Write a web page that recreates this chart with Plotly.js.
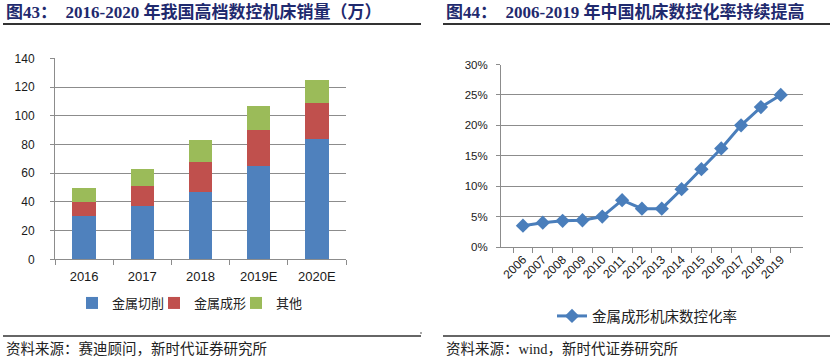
<!DOCTYPE html>
<html>
<head>
<meta charset="utf-8">
<script src="https://cdn.plot.ly/plotly-3.0.1.min.js"></script>
<style>
  html, body { margin: 0; padding: 0; background: #fff; }
  #chart { width: 832px; height: 362px; }
</style>
</head>
<body>
<div id="chart"></div>
<script>
// ---- Data (figure 43) ----
const years43 = ['2016', '2017', '2018', '2019E', '2020E'];
const metalCutting = [30, 37, 47, 65, 84];
const metalForming = [10, 14, 21, 25, 25];
const others = [10, 12, 15, 17, 16];
const names43 = ['金属切削', '金属成形', '其他'];

// ---- Data (figure 44) ----
const years44 = ['2006', '2007', '2008', '2009', '2010', '2011', '2012', '2013', '2014', '2015', '2016', '2017', '2018', '2019'];
const ncRate = [0.035, 0.040, 0.043, 0.044, 0.050, 0.077, 0.063, 0.063, 0.095, 0.128, 0.162, 0.200, 0.230, 0.250];
const name44 = '金属成形机床数控化率';

const title43 = '图43：\u00a0 2016-2020 年我国高档数控机床销量（万）';
const title44 = '图44：\u00a0 2006-2019 年中国机床数控化率持续提高';
const source43 = '资料来源：赛迪顾问，新时代证券研究所';
const source44 = '资料来源：wind，新时代证券研究所';

const W = 832, H = 362;
const px = v => v / W;
const py = v => 1 - v / H;

const tickFont = { family: 'Liberation Sans, Arial, sans-serif', color: '#1a1a1a' };
const cjk = 'Liberation Serif, Noto Sans CJK SC, serif';
const gridC = '#8c8c8c';

const traces = [
  { type: 'bar', x: years43, y: metalCutting, name: names43[0], marker: { color: '#4F81BD' }, xaxis: 'x', yaxis: 'y', legend: 'legend' },
  { type: 'bar', x: years43, y: metalForming, name: names43[1], marker: { color: '#C0504D' }, xaxis: 'x', yaxis: 'y', legend: 'legend' },
  { type: 'bar', x: years43, y: others, name: names43[2], marker: { color: '#9BBB59' }, xaxis: 'x', yaxis: 'y', legend: 'legend' },
  { type: 'scatter', mode: 'lines+markers', x: years44, y: ncRate, name: name44,
    line: { color: '#4A7EBB', width: 3 }, marker: { symbol: 'diamond', size: 11, color: '#4A7EBB' },
    xaxis: 'x2', yaxis: 'y2', legend: 'legend2' }
];

const layout = {
  width: W, height: H,
  margin: { l: 0, r: 0, t: 0, b: 0 },
  paper_bgcolor: '#fff', plot_bgcolor: '#fff',
  barmode: 'stack', bargap: 0.6,
  showlegend: true,
  xaxis: {
    domain: [px(55), px(346)], anchor: 'y', type: 'category',
    showline: true, linecolor: gridC, linewidth: 1,
    ticks: 'outside', tickson: 'boundaries', ticklen: 5, tickcolor: gridC,
    showgrid: false, tickfont: Object.assign({ size: 13 }, tickFont), ticklabelstandoff: 5
  },
  yaxis: {
    domain: [py(259.3), py(58.3)], anchor: 'x', range: [0, 140], dtick: 20,
    showline: true, linecolor: gridC, linewidth: 1,
    ticks: 'outside', ticklen: 4, tickcolor: gridC,
    showgrid: true, gridcolor: gridC, gridwidth: 1, zeroline: false,
    tickfont: Object.assign({ size: 12 }, tickFont), ticklabelstandoff: 13
  },
  xaxis2: {
    domain: [px(501), px(802.7)], anchor: 'y2', type: 'category',
    showline: true, linecolor: gridC, linewidth: 1,
    ticks: 'outside', tickson: 'boundaries', ticklen: 5, tickcolor: gridC,
    showgrid: false, tickangle: -45, tickfont: Object.assign({ size: 12 }, tickFont)
  },
  yaxis2: {
    domain: [py(247), py(64.5)], anchor: 'x2', range: [0, 0.30], dtick: 0.05, tickformat: '.0%',
    showline: true, linecolor: gridC, linewidth: 1,
    ticks: 'outside', ticklen: 4, tickcolor: gridC,
    showgrid: true, gridcolor: gridC, gridwidth: 1, zeroline: false,
    tickfont: Object.assign({ size: 11.5 }, tickFont), ticklabelstandoff: 6
  },
  legend: {
    orientation: 'h', x: px(72), xanchor: 'left', y: py(303), yanchor: 'middle',
    entrywidth: 37, font: { family: cjk, size: 13, color: '#222' }, bgcolor: 'rgba(0,0,0,0)',
    traceorder: 'normal'
  },
  legend2: {
    orientation: 'h', x: px(552), xanchor: 'left', y: py(316), yanchor: 'middle',
    font: { family: cjk, size: 14.5, color: '#222' }, bgcolor: 'rgba(0,0,0,0)'
  },
  annotations: [
    { text: title43, xref: 'paper', yref: 'paper', x: px(4), y: py(12), xanchor: 'left', yanchor: 'middle', showarrow: false,
      font: { family: cjk, size: 17, color: '#1f2a6e', weight: 'bold' } },
    { text: title44, xref: 'paper', yref: 'paper', x: px(444), y: py(12), xanchor: 'left', yanchor: 'middle', showarrow: false,
      font: { family: cjk, size: 17, color: '#1f2a6e', weight: 'bold' } },
    { text: source43, xref: 'paper', yref: 'paper', x: px(4), y: py(349), xanchor: 'left', yanchor: 'middle', showarrow: false,
      font: { family: cjk, size: 14.5, color: '#222' } },
    { text: source44, xref: 'paper', yref: 'paper', x: px(444), y: py(349), xanchor: 'left', yanchor: 'middle', showarrow: false,
      font: { family: cjk, size: 14.5, color: '#222' } }
  ],
  shapes: [
    { type: 'line', xref: 'paper', yref: 'paper', x0: px(3), x1: px(421), y0: py(24), y1: py(24), line: { color: '#333', width: 2 } },
    { type: 'line', xref: 'paper', yref: 'paper', x0: px(443), x1: px(830), y0: py(24), y1: py(24), line: { color: '#333', width: 2 } },
    { type: 'line', xref: 'paper', yref: 'paper', x0: px(3), x1: px(421), y0: py(336), y1: py(336), line: { color: '#333', width: 1.5 } },
    { type: 'line', xref: 'paper', yref: 'paper', x0: px(443), x1: px(830), y0: py(336), y1: py(336), line: { color: '#333', width: 1.5 } },
    { type: 'line', xref: 'paper', yref: 'paper', x0: px(420), x1: px(422), y0: py(333), y1: py(333), line: { color: '#555', width: 1 } }
  ]
};

Plotly.newPlot('chart', traces, layout, { staticPlot: true, displayModeBar: false });
</script>
</body>
</html>
